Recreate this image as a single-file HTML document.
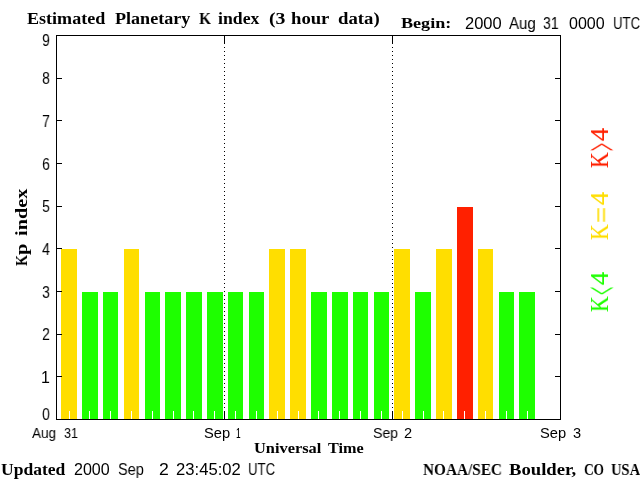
<!DOCTYPE html>
<html lang="en">
<head>
<meta charset="utf-8">
<title>Estimated Planetary K index (3 hour data)</title>
<style>
html,body{margin:0;padding:0;background:#fff;}
body{width:640px;height:480px;position:relative;overflow:hidden;font-family:"Liberation Sans",sans-serif;color:#000;}
#chart{position:absolute;left:0;top:0;width:640px;height:480px;overflow:hidden;background:#fff;}
.ax{position:absolute;background:#000;}
.bar{position:absolute;}
.wt{position:absolute;width:1px;height:8px;top:411px;background:#fff;}
.dot{position:absolute;width:1px;top:47px;height:361px;background-image:linear-gradient(#000 1px,rgba(0,0,0,0) 1px);background-size:1px 4px;background-repeat:repeat-y;}
.w{will-change:transform;position:absolute;white-space:pre;line-height:20px;height:20px;transform-origin:0 0;display:block;}
.sb{font-family:"Liberation Serif",serif;font-weight:bold;}
.sr{font-family:"Liberation Serif",serif;font-weight:normal;-webkit-text-stroke:0.2px currentColor;}
.ss{font-family:"Liberation Sans",sans-serif;font-weight:normal;}
</style>
</head>
<body>
<div id="chart">
<!-- bars -->
<div class="bar" style="left:61px;width:16px;top:249px;height:170px;background:#ffde00"></div>
<div class="bar" style="left:82px;width:16px;top:292px;height:127px;background:#1eff00"></div>
<div class="bar" style="left:103px;width:15px;top:292px;height:127px;background:#1eff00"></div>
<div class="bar" style="left:124px;width:15px;top:249px;height:170px;background:#ffde00"></div>
<div class="bar" style="left:145px;width:15px;top:292px;height:127px;background:#1eff00"></div>
<div class="bar" style="left:165px;width:16px;top:292px;height:127px;background:#1eff00"></div>
<div class="bar" style="left:186px;width:16px;top:292px;height:127px;background:#1eff00"></div>
<div class="bar" style="left:207px;width:16px;top:292px;height:127px;background:#1eff00"></div>
<div class="bar" style="left:228px;width:15px;top:292px;height:127px;background:#1eff00"></div>
<div class="bar" style="left:249px;width:15px;top:292px;height:127px;background:#1eff00"></div>
<div class="bar" style="left:269px;width:16px;top:249px;height:170px;background:#ffde00"></div>
<div class="bar" style="left:290px;width:16px;top:249px;height:170px;background:#ffde00"></div>
<div class="bar" style="left:311px;width:16px;top:292px;height:127px;background:#1eff00"></div>
<div class="bar" style="left:332px;width:16px;top:292px;height:127px;background:#1eff00"></div>
<div class="bar" style="left:353px;width:15px;top:292px;height:127px;background:#1eff00"></div>
<div class="bar" style="left:374px;width:15px;top:292px;height:127px;background:#1eff00"></div>
<div class="bar" style="left:394px;width:16px;top:249px;height:170px;background:#ffde00"></div>
<div class="bar" style="left:415px;width:16px;top:292px;height:127px;background:#1eff00"></div>
<div class="bar" style="left:436px;width:16px;top:249px;height:170px;background:#ffde00"></div>
<div class="bar" style="left:457px;width:16px;top:207px;height:212px;background:#ff2000"></div>
<div class="bar" style="left:478px;width:15px;top:249px;height:170px;background:#ffde00"></div>
<div class="bar" style="left:499px;width:15px;top:292px;height:127px;background:#1eff00"></div>
<div class="bar" style="left:519px;width:16px;top:292px;height:127px;background:#1eff00"></div>
<!-- minor ticks (background colour) -->
<div class="wt" style="left:69px"></div>
<div class="wt" style="left:89px"></div>
<div class="wt" style="left:110px"></div>
<div class="wt" style="left:131px"></div>
<div class="wt" style="left:152px"></div>
<div class="wt" style="left:173px"></div>
<div class="wt" style="left:193px"></div>
<div class="wt" style="left:214px"></div>
<div class="wt" style="left:235px"></div>
<div class="wt" style="left:256px"></div>
<div class="wt" style="left:277px"></div>
<div class="wt" style="left:298px"></div>
<div class="wt" style="left:318px"></div>
<div class="wt" style="left:339px"></div>
<div class="wt" style="left:360px"></div>
<div class="wt" style="left:381px"></div>
<div class="wt" style="left:402px"></div>
<div class="wt" style="left:423px"></div>
<div class="wt" style="left:443px"></div>
<div class="wt" style="left:464px"></div>
<div class="wt" style="left:485px"></div>
<div class="wt" style="left:506px"></div>
<div class="wt" style="left:527px"></div>
<!-- frame -->
<div class="ax" style="left:56px;top:35px;width:505px;height:1px"></div>
<div class="ax" style="left:56px;top:419px;width:505px;height:1px"></div>
<div class="ax" style="left:56px;top:35px;width:1px;height:385px"></div>
<div class="ax" style="left:560px;top:35px;width:1px;height:385px"></div>
<div class="ax" style="left:57px;top:376px;width:5px;height:1px"></div><div class="ax" style="left:555px;top:376px;width:5px;height:1px"></div>
<div class="ax" style="left:57px;top:334px;width:5px;height:1px"></div><div class="ax" style="left:555px;top:334px;width:5px;height:1px"></div>
<div class="ax" style="left:57px;top:291px;width:5px;height:1px"></div><div class="ax" style="left:555px;top:291px;width:5px;height:1px"></div>
<div class="ax" style="left:57px;top:248px;width:5px;height:1px"></div><div class="ax" style="left:555px;top:248px;width:5px;height:1px"></div>
<div class="ax" style="left:57px;top:206px;width:5px;height:1px"></div><div class="ax" style="left:555px;top:206px;width:5px;height:1px"></div>
<div class="ax" style="left:57px;top:163px;width:5px;height:1px"></div><div class="ax" style="left:555px;top:163px;width:5px;height:1px"></div>
<div class="ax" style="left:57px;top:120px;width:5px;height:1px"></div><div class="ax" style="left:555px;top:120px;width:5px;height:1px"></div>
<div class="ax" style="left:57px;top:78px;width:5px;height:1px"></div><div class="ax" style="left:555px;top:78px;width:5px;height:1px"></div>
<div class="ax" style="left:224px;top:36px;width:1px;height:8px"></div><div class="dot" style="left:224px"></div><div class="ax" style="left:224px;top:411px;width:1px;height:8px"></div>
<div class="ax" style="left:392px;top:36px;width:1px;height:8px"></div><div class="dot" style="left:392px"></div><div class="ax" style="left:392px;top:411px;width:1px;height:8px"></div>
<!-- text -->
<div><span class="w sb" style="font-size:16.8px;left:27.00px;top:9.00px;transform:scaleX(1.0766);">Estimated</span> <span class="w sb" style="font-size:16.8px;left:115.00px;top:9.00px;transform:scaleX(1.0778);">Planetary</span> <span class="w sb" style="font-size:16.8px;left:199.00px;top:9.00px;transform:scaleX(0.9231);">K</span> <span class="w sb" style="font-size:16.8px;left:218.00px;top:9.00px;transform:scaleX(1.0559);">index</span> <span class="w sb" style="font-size:16.8px;left:269.00px;top:9.00px;transform:scaleX(1.1775);">(3</span> <span class="w sb" style="font-size:16.8px;left:291.00px;top:9.00px;transform:scaleX(1.1125);">hour</span> <span class="w sb" style="font-size:16.8px;left:338.00px;top:9.00px;transform:scaleX(1.1171);">data)</span> </div>
<div><span class="w sb" style="font-size:15.4px;left:401.00px;top:13.20px;transform:scaleX(1.1771);">Begin:</span> <span class="w ss" style="font-size:15.7px;left:465.00px;top:13.90px;transform:scaleX(1.0519);">2000</span> <span class="w ss" style="font-size:15.7px;left:509.00px;top:13.90px;transform:scaleX(0.9563);">Aug</span> <span class="w ss" style="font-size:15.7px;left:543.00px;top:13.90px;transform:scaleX(0.8969);">31</span> <span class="w ss" style="font-size:15.7px;left:569.00px;top:13.90px;transform:scaleX(1.0235);">0000</span> <span class="w ss" style="font-size:15.7px;left:613.16px;top:13.90px;transform:scaleX(0.8411);">UTC</span> </div>
<div><span class="w sb" style="font-size:16.8px;left:1.00px;top:460.00px;transform:scaleX(1.0448);">Updated</span> <span class="w ss" style="font-size:15.7px;left:74.00px;top:459.90px;transform:scaleX(1.0235);">2000</span> <span class="w ss" style="font-size:15.7px;left:118.00px;top:459.90px;transform:scaleX(0.9224);">Sep</span> <span class="w ss" style="font-size:15.7px;left:159.00px;top:459.90px;transform:scaleX(1.1250);">2</span> <span class="w ss" style="font-size:15.7px;left:176.00px;top:459.90px;transform:scaleX(1.0607);">23:45:02</span> <span class="w ss" style="font-size:15.7px;left:248.16px;top:459.90px;transform:scaleX(0.8411);">UTC</span> </div>
<div><span class="w sb" style="font-size:16.8px;left:423.00px;top:460.00px;transform:scaleX(0.9112);">NOAA/SEC</span> <span class="w sb" style="font-size:16.8px;left:509.00px;top:460.00px;transform:scaleX(1.1117);">Boulder,</span> <span class="w sb" style="font-size:16.8px;left:584.00px;top:460.00px;transform:scaleX(0.7962);">CO</span> <span class="w sb" style="font-size:16.8px;left:611.00px;top:460.00px;transform:scaleX(0.8669);">USA</span> </div>
<div><span class="w ss" style="font-size:14.6px;left:32.00px;top:422.70px;transform:scaleX(0.9284);">Aug</span> <span class="w ss" style="font-size:14.6px;left:64.00px;top:422.70px;transform:scaleX(0.8687);">31</span> </div>
<div><span class="w ss" style="font-size:14.6px;left:204.00px;top:422.70px;transform:scaleX(1.0058);">Sep</span> <span class="w ss" style="font-size:14.6px;left:236.43px;top:422.70px;transform:scaleX(0.5714);">1</span> </div>
<div><span class="w ss" style="font-size:14.6px;left:373.00px;top:422.70px;transform:scaleX(0.9671);">Sep</span> <span class="w ss" style="font-size:14.6px;left:404.00px;top:422.70px;transform:scaleX(1.0000);">2</span> </div>
<div><span class="w ss" style="font-size:14.6px;left:540.00px;top:422.70px;transform:scaleX(1.0058);">Sep</span> <span class="w ss" style="font-size:14.6px;left:573.00px;top:422.70px;transform:scaleX(1.0000);">3</span> </div>
<div><span class="w sb" style="font-size:15.2px;left:254.00px;top:438.00px;transform:scaleX(1.0769);">Universal</span> <span class="w sb" style="font-size:15.2px;left:328.00px;top:438.00px;transform:scaleX(1.0674);">Time</span> </div>
<div><span class="w ss" style="font-size:16px;left:42.00px;top:404.80px;transform:scaleX(0.8889);">0</span> </div>
<div><span class="w ss" style="font-size:16px;left:41.00px;top:368.03px;transform:scaleX(1.0000);">1</span> </div>
<div><span class="w ss" style="font-size:16px;left:42.00px;top:325.37px;transform:scaleX(0.8889);">2</span> </div>
<div><span class="w ss" style="font-size:16px;left:42.00px;top:282.70px;transform:scaleX(0.8889);">3</span> </div>
<div><span class="w ss" style="font-size:16px;left:42.00px;top:240.03px;transform:scaleX(0.8889);">4</span> </div>
<div><span class="w ss" style="font-size:16px;left:42.00px;top:197.37px;transform:scaleX(0.8889);">5</span> </div>
<div><span class="w ss" style="font-size:16px;left:42.00px;top:154.70px;transform:scaleX(0.8889);">6</span> </div>
<div><span class="w ss" style="font-size:16px;left:42.00px;top:112.03px;transform:scaleX(0.8889);">7</span> </div>
<div><span class="w ss" style="font-size:16px;left:42.00px;top:69.37px;transform:scaleX(0.8889);">8</span> </div>
<div><span class="w ss" style="font-size:16px;left:42.00px;top:30.80px;transform:scaleX(0.8889);">9</span> </div>
<div><span class="w sb" style="font-size:16.8px;left:12.00px;top:266.00px;transform:rotate(-90deg) scaleX(0.8462);">K</span> <span class="w sb" style="font-size:16.8px;left:12.00px;top:255.00px;transform:rotate(-90deg) scaleX(1.2222);">p</span> <span class="w sb" style="font-size:16.8px;left:12.00px;top:236.00px;transform:rotate(-90deg) scaleX(1.2067);">index</span> </div>
<div><span class="w sr" style="font-size:24.4px;color:#ff2000;left:590.00px;top:168.00px;transform:rotate(-90deg) scaleX(0.8889);">K</span> <span class="w sr" style="font-size:24.4px;color:#ff2000;left:583.23px;top:150.58px;transform:rotate(-90deg) scale(0.5833,1.9231);">&gt;</span> <span class="w sr" style="font-size:24.4px;color:#ff2000;left:590.00px;top:141.00px;transform:rotate(-90deg) scaleX(1.0833);">4</span> </div>
<div><span class="w sr" style="font-size:24.4px;color:#ffde00;left:590.00px;top:240.00px;transform:rotate(-90deg) scaleX(0.8889);">K</span> <span class="w sr" style="font-size:24.4px;color:#ffde00;left:590.14px;top:223.17px;transform:rotate(-90deg) scale(1.1667,1.1429);">=</span> <span class="w sr" style="font-size:24.4px;color:#ffde00;left:590.00px;top:205.00px;transform:rotate(-90deg) scaleX(1.0833);">4</span> </div>
<div><span class="w sr" style="font-size:24.4px;color:#1eff00;left:590.00px;top:312.00px;transform:rotate(-90deg) scaleX(0.8889);">K</span> <span class="w sr" style="font-size:24.4px;color:#1eff00;left:583.23px;top:294.58px;transform:rotate(-90deg) scale(0.5833,1.9231);">&lt;</span> <span class="w sr" style="font-size:24.4px;color:#1eff00;left:590.00px;top:285.00px;transform:rotate(-90deg) scaleX(1.0833);">4</span> </div>
</div>
</body>
</html>
